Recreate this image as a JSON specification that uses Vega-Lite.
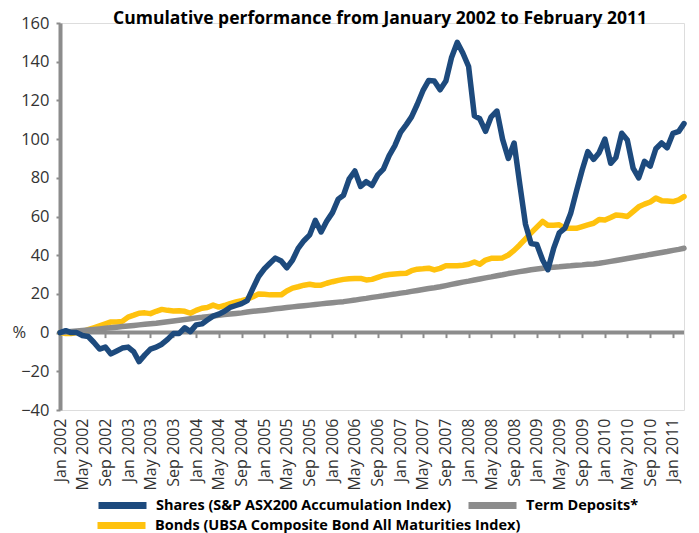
{
"$schema": "https://vega.github.io/schema/vega-lite/v6.json",
"autosize": {"type": "none"},
"width": 624,
"height": 387,
"padding": {"left": 60, "top": 23, "right": 15, "bottom": 123},
"background": "white",
"config": {"legend": {"orient": "none", "title": null, "symbolType": "M-4,0L4,0", "symbolStrokeWidth": 7, "symbolSize": 144, "labelFont": "Open Sans", "labelFontSize": 14.5, "labelFontWeight": "bold", "labelColor": "#000000", "labelLimit": 500, "labelOffset": 24, "padding": 0}},
"title": {"text": "Cumulative performance from January 2002 to February 2011", "font": "Open Sans", "fontSize": 17.5, "fontWeight": "bold", "color": "#000000", "anchor": "middle", "frame": "group", "baseline": "alphabetic", "offset": -3, "dx": 8, "dy": 23},
"data": {"values": [
{"d":"2002/01/01","S":0,"T":0,"B":0},
{"d":"2002/02/01","S":1,"T":0.3,"B":-0.5},
{"d":"2002/03/01","S":0,"T":0.55,"B":-0.5},
{"d":"2002/04/01","S":0,"T":0.8,"B":0},
{"d":"2002/05/01","S":-1.5,"T":1.1,"B":0.5},
{"d":"2002/06/01","S":-2,"T":1.35,"B":1.5},
{"d":"2002/07/01","S":-5,"T":1.6,"B":2.5},
{"d":"2002/08/01","S":-8.5,"T":1.9,"B":3.5},
{"d":"2002/09/01","S":-7.5,"T":2.2,"B":4.5},
{"d":"2002/10/01","S":-11,"T":2.5,"B":5.5},
{"d":"2002/11/01","S":-9.5,"T":2.8,"B":5.5},
{"d":"2002/12/01","S":-8,"T":3.1,"B":5.8},
{"d":"2003/01/01","S":-7.5,"T":3.4,"B":8},
{"d":"2003/02/01","S":-10,"T":3.7,"B":9},
{"d":"2003/03/01","S":-15,"T":4.0,"B":10},
{"d":"2003/04/01","S":-11.5,"T":4.3,"B":10.2},
{"d":"2003/05/01","S":-8.5,"T":4.55,"B":9.8},
{"d":"2003/06/01","S":-7.5,"T":4.8,"B":11},
{"d":"2003/07/01","S":-6,"T":5.2,"B":12},
{"d":"2003/08/01","S":-3.5,"T":5.6,"B":11.5},
{"d":"2003/09/01","S":-0.5,"T":6.0,"B":11.2},
{"d":"2003/10/01","S":-0.5,"T":6.4,"B":11.3},
{"d":"2003/11/01","S":2.5,"T":6.8,"B":11},
{"d":"2003/12/01","S":0.5,"T":7.2,"B":10},
{"d":"2004/01/01","S":4,"T":7.6,"B":11.5},
{"d":"2004/02/01","S":4.5,"T":7.9,"B":12.6},
{"d":"2004/03/01","S":6.5,"T":8.25,"B":13},
{"d":"2004/04/01","S":8.5,"T":8.6,"B":14.2},
{"d":"2004/05/01","S":9.5,"T":8.95,"B":13.2},
{"d":"2004/06/01","S":11,"T":9.3,"B":14},
{"d":"2004/07/01","S":13,"T":9.6,"B":15},
{"d":"2004/08/01","S":14,"T":9.9,"B":15.8},
{"d":"2004/09/01","S":15,"T":10.2,"B":16.5},
{"d":"2004/10/01","S":16.5,"T":10.6,"B":17.3},
{"d":"2004/11/01","S":23,"T":11.0,"B":18.5},
{"d":"2004/12/01","S":29,"T":11.3,"B":20},
{"d":"2005/01/01","S":33,"T":11.6,"B":19.8},
{"d":"2005/02/01","S":36,"T":11.95,"B":19.5},
{"d":"2005/03/01","S":38.5,"T":12.3,"B":19.5},
{"d":"2005/04/01","S":37,"T":12.6,"B":19.5},
{"d":"2005/05/01","S":33.5,"T":12.95,"B":21.5},
{"d":"2005/06/01","S":37.5,"T":13.3,"B":23},
{"d":"2005/07/01","S":43.5,"T":13.6,"B":23.7},
{"d":"2005/08/01","S":47.5,"T":13.9,"B":24.5},
{"d":"2005/09/01","S":50.5,"T":14.2,"B":25},
{"d":"2005/10/01","S":58,"T":14.55,"B":24.5},
{"d":"2005/11/01","S":52,"T":14.85,"B":24.5},
{"d":"2005/12/01","S":57.5,"T":15.15,"B":25.5},
{"d":"2006/01/01","S":62,"T":15.45,"B":26.3},
{"d":"2006/02/01","S":69,"T":15.75,"B":27},
{"d":"2006/03/01","S":71,"T":16.0,"B":27.5},
{"d":"2006/04/01","S":79.5,"T":16.4,"B":27.8},
{"d":"2006/05/01","S":83.5,"T":16.8,"B":28},
{"d":"2006/06/01","S":75.5,"T":17.3,"B":28},
{"d":"2006/07/01","S":78,"T":17.7,"B":27.2},
{"d":"2006/08/01","S":76,"T":18.2,"B":27.5},
{"d":"2006/09/01","S":81.5,"T":18.6,"B":28.5},
{"d":"2006/10/01","S":84.5,"T":19.0,"B":29.5},
{"d":"2006/11/01","S":91.5,"T":19.5,"B":30},
{"d":"2006/12/01","S":96.5,"T":19.9,"B":30.3},
{"d":"2007/01/01","S":103.5,"T":20.4,"B":30.5},
{"d":"2007/02/01","S":107.5,"T":20.8,"B":30.7},
{"d":"2007/03/01","S":111.5,"T":21.3,"B":32},
{"d":"2007/04/01","S":118,"T":21.8,"B":32.8},
{"d":"2007/05/01","S":125,"T":22.3,"B":33},
{"d":"2007/06/01","S":130.3,"T":22.8,"B":33.3},
{"d":"2007/07/01","S":130,"T":23.2,"B":32.4},
{"d":"2007/08/01","S":125.5,"T":23.7,"B":33.2},
{"d":"2007/09/01","S":130,"T":24.3,"B":34.5},
{"d":"2007/10/01","S":142,"T":24.9,"B":34.5},
{"d":"2007/11/01","S":150,"T":25.5,"B":34.5},
{"d":"2007/12/01","S":144.5,"T":26.1,"B":34.8},
{"d":"2008/01/01","S":137.5,"T":26.6,"B":35.3},
{"d":"2008/02/01","S":112,"T":27.2,"B":36.5},
{"d":"2008/03/01","S":110.5,"T":27.7,"B":35.3},
{"d":"2008/04/01","S":104,"T":28.3,"B":37.5},
{"d":"2008/05/01","S":111.5,"T":28.8,"B":38.4},
{"d":"2008/06/01","S":114.5,"T":29.4,"B":38.4},
{"d":"2008/07/01","S":100,"T":29.9,"B":38.6},
{"d":"2008/08/01","S":90,"T":30.5,"B":40.1},
{"d":"2008/09/01","S":98,"T":31.0,"B":42.5},
{"d":"2008/10/01","S":77,"T":31.5,"B":45.3},
{"d":"2008/11/01","S":56,"T":32.0,"B":48.5},
{"d":"2008/12/01","S":46,"T":32.5,"B":51.5},
{"d":"2009/01/01","S":45.5,"T":32.9,"B":54.5},
{"d":"2009/02/01","S":37.5,"T":33.3,"B":57.5},
{"d":"2009/03/01","S":32.5,"T":33.6,"B":55.5},
{"d":"2009/04/01","S":43.5,"T":33.8,"B":55.5},
{"d":"2009/05/01","S":51.5,"T":34.0,"B":55.7},
{"d":"2009/06/01","S":54,"T":34.3,"B":54},
{"d":"2009/07/01","S":61.5,"T":34.5,"B":53.9},
{"d":"2009/08/01","S":73,"T":34.8,"B":53.9},
{"d":"2009/09/01","S":84,"T":35.0,"B":54.8},
{"d":"2009/10/01","S":93.5,"T":35.3,"B":55.7},
{"d":"2009/11/01","S":89.5,"T":35.5,"B":56.5},
{"d":"2009/12/01","S":93,"T":35.8,"B":58.5},
{"d":"2010/01/01","S":100,"T":36.3,"B":58.2},
{"d":"2010/02/01","S":87.5,"T":36.8,"B":59.5},
{"d":"2010/03/01","S":90.5,"T":37.3,"B":60.8},
{"d":"2010/04/01","S":103,"T":37.8,"B":60.5},
{"d":"2010/05/01","S":99.5,"T":38.3,"B":60},
{"d":"2010/06/01","S":85,"T":38.8,"B":62.5},
{"d":"2010/07/01","S":80,"T":39.3,"B":65},
{"d":"2010/08/01","S":88.5,"T":39.8,"B":66.4},
{"d":"2010/09/01","S":86,"T":40.4,"B":67.5},
{"d":"2010/10/01","S":95,"T":40.9,"B":69.5},
{"d":"2010/11/01","S":98,"T":41.4,"B":68.2},
{"d":"2010/12/01","S":95.5,"T":41.9,"B":68},
{"d":"2011/01/01","S":103,"T":42.5,"B":67.7},
{"d":"2011/02/01","S":104,"T":43.0,"B":68.6},
{"d":"2011/03/01","S":108,"T":43.6,"B":70.3}
]},
"transform": [{"fold": ["B", "T", "S"], "as": ["series", "value"]}],
"layer": [
{
"data": {"values": [{}]},
"mark": {"type": "rule", "color": "#8c8c8c", "strokeWidth": 4},
"encoding": {"y": {"datum": 0, "type": "quantitative", "scale": {"domain": [-40, 160]}, "axis": null}}
},
{
"mark": {"type": "point", "opacity": 0},
"encoding": {
"x": {"field": "d", "type": "temporal", "axis": {"orient": "bottom", "offset": -77.4, "labels": false, "domain": false, "ticks": true, "tickSize": 5, "tickWidth": 2, "tickColor": "#8c8c8c", "grid": false, "title": null, "tickCount": {"interval": "month", "step": 4}}},
"y": {"datum": 0, "type": "quantitative", "scale": {"domain": [-40, 160]}, "axis": null}
}
},
{
"transform": [{"filter": "datum.series == 'B'"}],
"mark": {"type": "line", "strokeWidth": 5.5, "strokeJoin": "round", "strokeCap": "round"},
"encoding": {
"x": {"field": "d", "type": "temporal", "axis": null},
"y": {"field": "value", "type": "quantitative", "scale": {"domain": [-40, 160]}, "axis": null},
"color": {"field": "series", "type": "nominal", "scale": {"domain": ["B"], "range": ["#ffc20e"]}, "legend": {"legendX": 52, "legendY": 493, "labelExpr": "'Bonds (UBSA Composite Bond All Maturities Index)'"}}
}
},
{
"transform": [{"filter": "datum.series == 'T'"}],
"mark": {"type": "line", "strokeWidth": 5.5, "strokeJoin": "round", "strokeCap": "round"},
"encoding": {
"x": {"field": "d", "type": "temporal", "axis": null},
"y": {"field": "value", "type": "quantitative", "scale": {"domain": [-40, 160]}, "axis": null},
"color": {"field": "series", "type": "nominal", "scale": {"domain": ["T"], "range": ["#8c8c8c"]}, "legend": {"legendX": 423, "legendY": 473, "labelExpr": "'Term Deposits*'"}}
}
},
{
"transform": [{"filter": "datum.series == 'S'"}],
"mark": {"type": "line", "strokeWidth": 5.5, "strokeJoin": "round", "strokeCap": "round"},
"encoding": {
"x": {"field": "d", "type": "temporal", "axis": {"orient": "bottom", "domain": false, "ticks": false, "grid": false, "title": null, "format": "%b %Y", "labelAngle": -90, "labelAlign": "right", "labelBaseline": "middle", "labelPadding": 8, "labelFont": "Open Sans", "labelFontSize": 16, "labelColor": "#333333", "tickCount": {"interval": "month", "step": 4}, "labelOverlap": false, "labelFlush": false, "labelBound": false}},
"y": {"field": "value", "type": "quantitative", "scale": {"domain": [-40, 160]}, "axis": {"values": [-40, -20, 0, 20, 40, 60, 80, 100, 120, 140, 160], "labelOverlap": false, "domainColor": "#8c8c8c", "domainWidth": 4, "tickColor": "#8c8c8c", "tickWidth": 2, "tickSize": 4, "grid": false, "labelFont": "Open Sans", "labelFontSize": 16.5, "labelColor": "#333333", "labelPadding": 7, "title": "%", "titleAngle": 0, "titleX": -48, "titleY": 309.6, "titleAlign": "left", "titleBaseline": "middle", "titleFont": "Open Sans", "titleFontSize": 16.5, "titleFontWeight": "normal", "titleColor": "#333333"}},
"color": {"field": "series", "type": "nominal", "scale": {"domain": ["S"], "range": ["#1d4a7d"]}, "legend": {"legendX": 53, "legendY": 473, "labelExpr": "'Shares (S&P ASX200 Accumulation Index)'"}}
}
}
],
"resolve": {"axis": {"x": "independent", "y": "independent"}, "scale": {"color": "independent"}}
}
